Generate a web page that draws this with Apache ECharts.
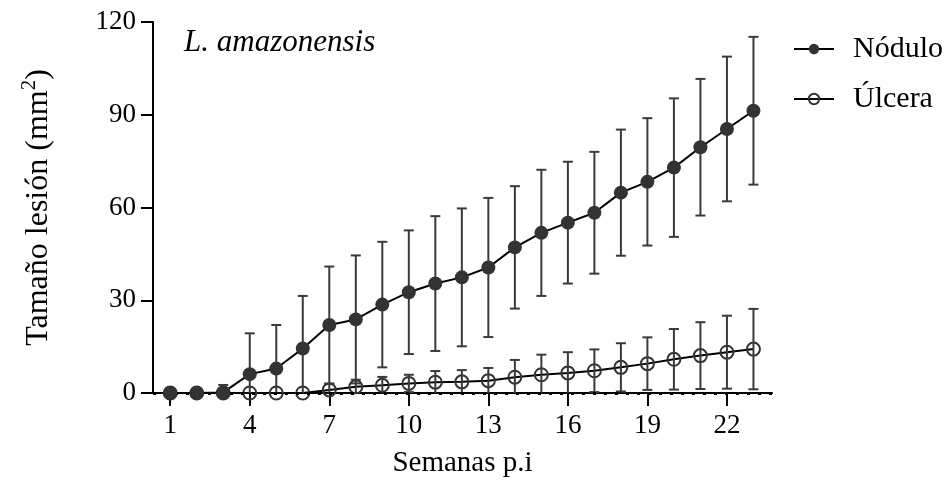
<!DOCTYPE html>
<html>
<head>
<meta charset="utf-8">
<script src="https://cdn.jsdelivr.net/npm/echarts@6/dist/echarts.min.js"></script>
<style>
html,body{margin:0;padding:0;background:#fff;}
#chart{width:948px;height:496px;}
</style>
</head>
<body>
<div id="chart"></div>
<script>
// ---- data ----
const weeks = [1,2,3,4,5,6,7,8,9,10,11,12,13,14,15,16,17,18,19,20,21,22,23];
const nodMean = [0,0,0.2,6.1,7.9,14.4,22.0,23.8,28.6,32.6,35.4,37.4,40.6,47.1,51.8,55.1,58.3,64.8,68.3,72.9,79.5,85.4,91.3];
const nodSD   = [0,0,2.4,13.2,14.1,17.0,18.9,20.7,20.3,20.0,21.8,22.3,22.5,19.8,20.4,19.7,19.7,20.4,20.6,22.4,22.1,23.4,23.9];
const ulcMean = [0,0,0,0,0,0,1.0,2.0,2.5,3.1,3.5,3.6,4.0,5.1,5.9,6.5,7.2,8.3,9.5,10.9,12.1,13.2,14.2];
const ulcSD   = [0,0,0,0,0,0,1.9,2.3,2.7,2.8,3.6,3.8,4.1,5.6,6.5,6.7,6.9,7.8,8.5,9.8,10.8,11.8,13.0];
const xTicks = [1,4,7,10,13,16,19,22];
const yTicks = [0,30,60,90,120];
const seriesNames = ['Nódulo','Úlcera'];
const titleText = 'L. amazonensis';
const xTitle = 'Semanas p.i';
const yTitle = 'Tamaño lesión (mm{sup|2})';

const FONT = 'Liberation Serif';
const chart = echarts.init(document.getElementById('chart'), null, {renderer:'canvas'});

function errData(mean, sd){
  return weeks.map((w,i)=>[w, mean[i]-sd[i], mean[i]+sd[i], sd[i]]);
}
function errRender(params, api){
  const sd = api.value(3);
  if (!(sd > 0)) return null;
  const x = api.value(0);
  let lo = api.value(1);
  const hi = api.value(2);
  const clipped = lo < 0;
  if (clipped) lo = 0;
  const pHi = api.coord([x, hi]);
  const pLo = api.coord([x, lo]);
  const hw = 5;
  const style = {stroke:'#3a3a3a', lineWidth:2, fill:null};
  const children = [
    {type:'line', shape:{x1:pHi[0], y1:pHi[1], x2:pLo[0], y2:pLo[1]}, style:style},
    {type:'line', shape:{x1:pHi[0]-hw, y1:pHi[1], x2:pHi[0]+hw, y2:pHi[1]}, style:style}
  ];
  if (!clipped) children.push({type:'line', shape:{x1:pLo[0]-hw, y1:pLo[1], x2:pLo[0]+hw, y2:pLo[1]}, style:style});
  return {type:'group', children:children};
}

const option = {
  animation:false,
  backgroundColor:'#fff',
  textStyle:{fontFamily:FONT, color:'#000'},
  title:{
    text:titleText, left:179, top:22,
    textStyle:{fontFamily:FONT, fontStyle:'italic', fontWeight:'normal', fontSize:31, color:'#000'}
  },
  legend:{
    orient:'vertical', left:788, top:29,
    itemWidth:40, itemHeight:13, itemGap:20,
    textStyle:{fontFamily:FONT, fontSize:30, color:'#000', padding:[0,0,0,14]},
    data:seriesNames
  },
  grid:{left:153, top:22, right:176, bottom:103, containLabel:false},
  xAxis:{
    type:'value', min:0.35, max:23.7,
    name:xTitle, nameLocation:'middle', nameGap:56,
    nameTextStyle:{fontFamily:FONT, fontSize:29, color:'#000'},
    axisLine:{show:true, onZero:false, lineStyle:{color:'#000', width:2}},
    axisTick:{show:true, customValues:xTicks, length:13, lineStyle:{color:'#000', width:2}},
    axisLabel:{customValues:xTicks, fontFamily:FONT, fontSize:27, color:'#000', margin:19},
    splitLine:{show:false}
  },
  yAxis:{
    type:'value', min:0, max:120, interval:30,
    name:yTitle, nameLocation:'middle', nameGap:95, nameRotate:90,
    nameTextStyle:{fontFamily:FONT, fontSize:32, color:'#000',
      rich:{sup:{fontFamily:FONT, fontSize:21, color:'#000', padding:[0,0,18,0]}}},
    axisLine:{show:true, lineStyle:{color:'#000', width:2}},
    axisTick:{show:true, length:12, lineStyle:{color:'#000', width:2}},
    axisLabel:{fontFamily:FONT, fontSize:27, color:'#000', margin:17, customValues:yTicks},
    splitLine:{show:false}
  },
  series:[
    {
      name:seriesNames[1], type:'line',
      data:weeks.map((w,i)=>[w, ulcMean[i]]),
      symbol:'circle', symbolSize:13,
      itemStyle:{color:'rgba(255,255,255,0)', borderColor:'#333', borderWidth:2},
      lineStyle:{color:'#000', width:2},
      z:3
    },
    {
      type:'custom', name:'ulcErr', renderItem:errRender,
      data:errData(ulcMean, ulcSD), z:4, silent:true,
      encode:{x:0, y:[1,2]}
    },
    {
      type:'custom', name:'nodErr', renderItem:errRender,
      data:errData(nodMean, nodSD), z:4, silent:true,
      encode:{x:0, y:[1,2]}
    },
    {
      name:seriesNames[0], type:'line',
      data:weeks.map((w,i)=>[w, nodMean[i]]),
      symbol:'circle', symbolSize:14,
      itemStyle:{color:'#333', borderColor:'#333', borderWidth:0},
      lineStyle:{color:'#000', width:2},
      z:5,
      markLine:{
        silent:true, symbol:['none','none'], label:{show:false},
        lineStyle:{color:'#000', width:3, type:[3,8]},
        data:[{yAxis:0}]
      }
    }
  ]
};
chart.setOption(option);
</script>
</body>
</html>
